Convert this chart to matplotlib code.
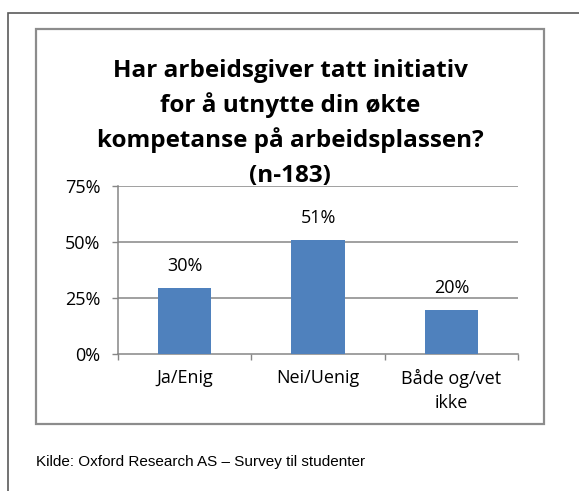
import matplotlib
matplotlib.use("Agg")
import matplotlib.pyplot as plt
from matplotlib.patches import Rectangle
from matplotlib.ticker import FixedLocator

# --- data ---
categories = ["Ja/Enig", "Nei/Uenig", "Både og/vet\nikke"]
shares = [0.295, 0.507, 0.197]
share_labels = ["30%", "51%", "20%"]
y_ticks = [0, 0.25, 0.5, 0.75]
y_tick_labels = ["0%", "25%", "50%", "75%"]

title_lines = [
    "Har arbeidsgiver tatt initiativ",
    "for å utnytte din økte",
    "kompetanse på arbeidsplassen?",
    "(n-183)",
]
source_note = "Kilde: Oxford Research AS – Survey til studenter"

BAR = "#4F81BD"
GRID = "#868686"
W, H = 579, 491

plt.rcParams["font.family"] = ["Open Sans", "DejaVu Sans"]

fig = plt.figure(figsize=(W / 100, H / 100), dpi=100)

# outer frame (runs off the right and bottom edge) and inner chart frame
fig.add_artist(Rectangle((8.3 / W, -0.1), 1.2, 1 - 12.7 / H + 0.1,
                         transform=fig.transFigure, fill=False,
                         edgecolor="#5a5a5a", linewidth=1.2))
fig.add_artist(Rectangle((35.7 / W, 1 - 424 / H), (544.3 - 35.7) / W,
                         (424 - 29) / H, transform=fig.transFigure,
                         fill=False, edgecolor="#8c8c8c", linewidth=1.6))

ax = fig.add_axes([118 / W, 1 - 354 / H, 400 / W, (354 - 185.7) / H])
x = list(range(len(categories)))
bars = ax.bar(x, shares, width=0.4, color=BAR, zorder=3)

for xi, v, lab in zip(x, shares, share_labels):
    ax.annotate(lab, (xi, v), xytext=(0, 12.3), textcoords="offset points",
                ha="center", va="baseline", fontsize=13, color="black")

ax.set_xlim(-0.5, 2.5)
ax.set_ylim(0, 0.75)
ax.set_yticks(y_ticks)
ax.set_yticklabels(y_tick_labels, fontsize=13)
ax.set_xticks(x)
ax.set_xticklabels(categories, fontsize=13, linespacing=1.4)
ax.xaxis.set_minor_locator(FixedLocator([-0.5, 0.5, 1.5, 2.5]))
ax.tick_params(axis="x", which="major", length=0, pad=11)
ax.tick_params(axis="x", which="minor", length=4.5, width=1, color=GRID)
ax.tick_params(axis="y", length=4.5, width=1, color=GRID, pad=8)

for y in y_ticks[1:]:
    ax.axhline(y, color=GRID, linewidth=1.1, zorder=1)
for side in ["top", "right"]:
    ax.spines[side].set_visible(False)
for side in ["left", "bottom"]:
    ax.spines[side].set_color(GRID)
    ax.spines[side].set_linewidth(1.1)

for i, line in enumerate(title_lines):
    fig.text(290 / W, 1 - (76.7 + 35.0 * i) / H, line, ha="center",
             va="baseline", fontsize=17.5, fontweight="bold")

fig.text(36 / W, 1 - 462 / H, source_note, ha="left", va="center",
         fontsize=11, family=["Liberation Sans Narrow", "Liberation Sans"])

fig.savefig("out.png", dpi=100)
